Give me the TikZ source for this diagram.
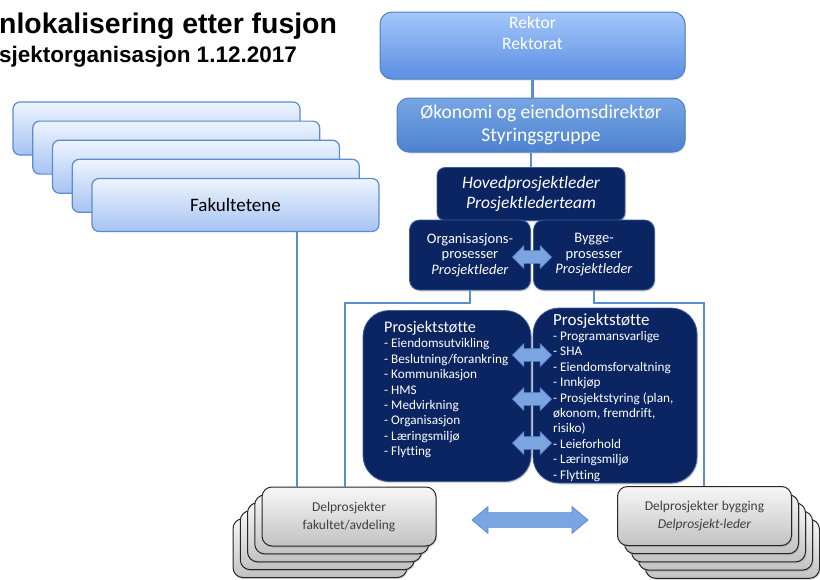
\documentclass[tikz,border=0pt]{standalone}
\usepackage{fontspec}
\setmainfont{Carlito}[Ligatures=NoCommon]
\newfontfamily\titlefont{Liberation Sans}
\usetikzlibrary{shapes.arrows,shadows}
\definecolor{rektortop}{HTML}{A3C6FA}
\definecolor{rektorbot}{HTML}{5B8FE2}
\definecolor{okotop}{HTML}{78A6E5}
\definecolor{okobot}{HTML}{4C82D0}
\definecolor{boxedge}{HTML}{4F7FC4}
\definecolor{navy}{HTML}{0B2462}
\definecolor{navyedge}{HTML}{3E5F9E}
\definecolor{faktop}{HTML}{EEF4FE}
\definecolor{fakbot}{HTML}{A6C3F2}
\definecolor{linkblue}{HTML}{5B8BD0}
\definecolor{deltop}{HTML}{F7F7F7}
\definecolor{delbot}{HTML}{C2C2C2}
\definecolor{arrowlight}{HTML}{DCE9FA}
\definecolor{arrowdark}{HTML}{7AA5E0}
\definecolor{arrowedge}{HTML}{5A88CC}
\begin{document}
\begin{tikzpicture}[x=1pt,y=-1pt,
  bluebox/.style={draw=boxedge,line width=1pt,rounded corners=12pt,text=white,align=center,drop shadow={opacity=0.25,shadow xshift=1pt,shadow yshift=-1.5pt}},
  navybox/.style={draw=navyedge,fill=navy,line width=0.8pt,text=white,align=center,drop shadow={opacity=0.3,shadow xshift=1pt,shadow yshift=-1.5pt}},
  fakbox/.style={draw=linkblue,line width=1.2pt,rounded corners=7pt,top color=faktop,bottom color=fakbot,minimum width=287pt,minimum height=53pt},
  delbox/.style={draw=black!85,line width=1pt,rounded corners=10pt,top color=deltop,bottom color=delbot,minimum width=174pt,minimum height=59pt,text=black!75,align=center,font=\fontsize{13.5}{18}\selectfont,drop shadow={opacity=0.3,shadow xshift=1pt,shadow yshift=-1.5pt}},
  link/.style={draw=linkblue,line width=2.5pt},
  swap/.style={double arrow,draw=arrowedge,line width=0.7pt,top color=arrowdark,middle color=arrowlight,bottom color=arrowdark,inner xsep=0pt,inner ysep=6pt,minimum height=39pt,double arrow head extend=5pt}]
\useasboundingbox (0,0) rectangle (820,579);

\node[anchor=base west,inner sep=0pt,font=\titlefont\bfseries\fontsize{28.4}{32}\selectfont] (title) at (-1,33) {nlokalisering etter fusjon};
\node[anchor=base west,inner sep=0pt,font=\titlefont\bfseries\fontsize{22.5}{26}\selectfont] (subtitle) at (-1,62) {sjektorganisasjon 1.12.2017};

\node[bluebox,top color=rektortop,bottom color=rektorbot,minimum width=305pt,minimum height=67pt] (rektor) at (532.5,45.5) {};
\node[text=white,align=center,font=\fontsize{17.5}{21}\selectfont] (rektortxt) at (532.5,32.5) {Rektor\\Rektorat};
\node[bluebox,top color=okotop,bottom color=okobot,minimum width=288pt,minimum height=54pt,font=\fontsize{19.5}{23}\selectfont] (oko) at (541,125) {Økonomi og eiendomsdirektør\\Styringsgruppe};
\node[navybox,rounded corners=8pt,minimum width=188pt,minimum height=53pt,font=\itshape\fontsize{17.5}{20}\selectfont] (hoved) at (531,194) {Hovedprosjektleder\\Prosjektlederteam};
\node[navybox,rounded corners=10pt,minimum width=121pt,minimum height=70pt,font=\fontsize{14.5}{15.5}\selectfont] (org) at (470,255) {Organisasjons-\\prosesser\\\textit{Prosjektleder}};
\node[navybox,rounded corners=10pt,minimum width=121pt,minimum height=70pt,font=\fontsize{14.5}{15.5}\selectfont] (bygg) at (594,255) {Bygge-\\prosesser\\\textit{Prosjektleder}};
\node[swap] (orgbygg) at (532,257) {};

\foreach \i in {0,...,3}
  \node[fakbox] (fak\i) at ({156.5+19.75*\i},{128.5+19.1*\i}) {};
\node[fakbox,font=\fontsize{19}{23}\selectfont] (fak) at (235.5,205) {Fakultetene};

\node[navybox,rounded corners=26pt,minimum width=168pt,minimum height=171pt] (stottev) at (447,396) {};
\node[navybox,rounded corners=26pt,minimum width=164pt,minimum height=175pt] (stotteh) at (615,395.5) {};
\node[anchor=north west,align=left,text=white,inner sep=0pt,font=\fontsize{13.2}{15.4}\selectfont] (stottevtxt) at (384,321) {{\fontsize{16.2}{19}\selectfont Prosjektstøtte}\\- Eiendomsutvikling\\- Beslutning/forankring\\- Kommunikasjon\\- HMS\\- Medvirkning\\- Organisasjon\\- Læringsmiljø\\- Flytting};
\node[anchor=north west,align=left,text=white,inner sep=0pt,font=\fontsize{13.2}{15.4}\selectfont] (stottehtxt) at (553,313) {{\fontsize{17}{19}\selectfont Prosjektstøtte}\\- Programansvarlige\\- SHA\\- Eiendomsforvaltning\\- Innkjøp\\- Prosjektstyring (plan,\\økonom, fremdrift,\\risiko)\\- Leieforhold\\- Læringsmiljø\\- Flytting};
\node[swap] (stotteswapa) at (532,355) {};
\node[swap] (stotteswapb) at (532,399) {};
\node[swap] (stotteswapc) at (532,443) {};

\foreach \k in {4,3,2,1}
  \node[delbox] (delf\k) at ({349-7.25*\k},{516.5+7.9*\k}) {};
\node[delbox] (delf) at (349,516.5) {Delprosjekter\\fakultet/avdeling};
\foreach \k in {4,3,2,1}
  \node[delbox] (delb\k) at ({704.5+7*\k},{516+8.2*\k}) {};
\node[delbox] (delb) at (704.5,516) {Delprosjekter bygging\\\textit{Delprosjekt-leder}};
\node[swap,inner ysep=7pt,minimum height=116pt,double arrow head extend=6pt,double arrow tip angle=80] (delswap) at (530,520) {};

\coordinate (fakfoot) at (297,0);
\coordinate (orgbus) at (345,303);
\coordinate (byggbus) at (704,303);
\path[link] (rektor.south) -- (rektor.south |- oko.north);
\path[link] (oko.south -| hoved.north) -- (hoved.north);
\path[link] (fak.south -| fakfoot) -- (fakfoot |- delf.north);
\path[link] (org.south) |- (orgbus) -- (orgbus |- delf.north);
\path[link] (bygg.south) |- (byggbus) -- (byggbus |- delb.north);
\end{tikzpicture}
\end{document}
